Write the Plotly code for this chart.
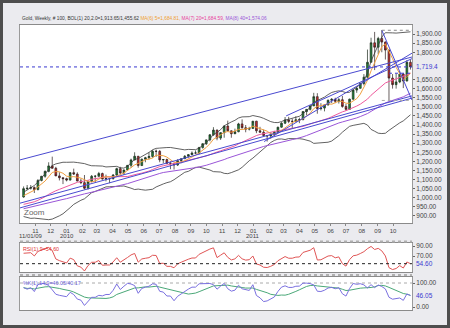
import plotly.graph_objects as go
import pandas as pd
import numpy as np

W, H = 450, 328

# ---------------- data ----------------
# weekly closes before the visible window (used for indicator warm-up)
pre_close = [853, 838, 895, 919, 914, 944, 1002, 942, 940, 930, 955, 925, 898, 880, 870,
             912, 887, 914, 930, 957, 978, 955, 937, 932, 940, 930, 912, 937, 951, 955,
             957, 946, 940, 955, 990, 1006, 1005, 990, 1004]

open_ = [1004, 1050, 1052, 1056, 1045, 1095, 1118, 1145, 1175, 1162, 1120, 1110, 1105,
         1097, 1138, 1130, 1092, 1083, 1052, 1090, 1118, 1118, 1133, 1103, 1105, 1105,
         1125, 1160, 1136, 1153, 1178, 1208, 1228, 1177, 1212, 1220, 1227, 1256, 1255,
         1208, 1210, 1189, 1189, 1180, 1204, 1215, 1228, 1237, 1246, 1246, 1276, 1297,
         1318, 1346, 1372, 1328, 1358, 1394, 1368, 1352, 1363, 1406, 1385, 1377, 1381,
         1421, 1368, 1360, 1342, 1340, 1348, 1360, 1388, 1410, 1428, 1420, 1420, 1429,
         1430, 1474, 1486, 1505, 1556, 1490, 1493, 1510, 1536, 1541, 1530, 1539, 1502,
         1486, 1542, 1592, 1602, 1628, 1663, 1745, 1852, 1828, 1876, 1856, 1812, 1658,
         1622, 1637, 1680, 1642, 1745]
high = [1062, 1070, 1070, 1062, 1102, 1120, 1150, 1195, 1226, 1170, 1140, 1112, 1110,
        1140, 1160, 1140, 1105, 1125, 1095, 1125, 1125, 1142, 1138, 1127, 1110, 1130,
        1165, 1170, 1150, 1180, 1215, 1250, 1230, 1215, 1225, 1250, 1262, 1265, 1262,
        1212, 1215, 1200, 1190, 1212, 1215, 1235, 1240, 1255, 1260, 1280, 1300, 1320,
        1350, 1388, 1375, 1360, 1398, 1424, 1370, 1380, 1412, 1431, 1400, 1390, 1422,
        1423, 1390, 1375, 1345, 1360, 1368, 1390, 1415, 1444, 1445, 1435, 1448, 1440,
        1475, 1487, 1510, 1577, 1575, 1520, 1515, 1540, 1548, 1550, 1548, 1560, 1515,
        1545, 1595, 1610, 1633, 1680, 1815, 1880, 1912, 1885, 1921, 1860, 1815, 1680,
        1683, 1695, 1685, 1757, 1760]
low = [1000, 1042, 1045, 1026, 1040, 1090, 1110, 1140, 1160, 1120, 1095, 1075, 1090,
       1095, 1125, 1090, 1075, 1045, 1045, 1085, 1085, 1115, 1100, 1090, 1080, 1100,
       1120, 1130, 1125, 1150, 1165, 1205, 1165, 1175, 1195, 1210, 1220, 1225, 1195,
       1190, 1185, 1157, 1155, 1175, 1190, 1212, 1220, 1235, 1242, 1240, 1270, 1290,
       1310, 1340, 1316, 1318, 1330, 1365, 1330, 1350, 1360, 1380, 1360, 1370, 1380,
       1355, 1360, 1340, 1309, 1324, 1340, 1355, 1385, 1405, 1410, 1380, 1415, 1410,
       1425, 1455, 1480, 1505, 1462, 1480, 1475, 1508, 1520, 1520, 1518, 1495, 1478,
       1485, 1540, 1577, 1600, 1618, 1660, 1745, 1702, 1790, 1800, 1760, 1535, 1600,
       1600, 1630, 1603, 1640, 1705]
close = [1050, 1052, 1056, 1045, 1095, 1118, 1145, 1175, 1162, 1120, 1110, 1105, 1097,
         1138, 1130, 1092, 1083, 1052, 1090, 1118, 1118, 1133, 1103, 1105, 1105, 1125,
         1160, 1136, 1153, 1178, 1208, 1228, 1177, 1212, 1220, 1227, 1256, 1255, 1208,
         1210, 1189, 1189, 1180, 1204, 1215, 1228, 1237, 1246, 1246, 1276, 1297, 1318,
         1346, 1372, 1328, 1358, 1394, 1368, 1352, 1363, 1406, 1385, 1377, 1381, 1421,
         1368, 1360, 1342, 1340, 1348, 1360, 1388, 1410, 1428, 1420, 1420, 1429, 1430,
         1474, 1486, 1505, 1556, 1490, 1493, 1510, 1536, 1541, 1530, 1539, 1502, 1486,
         1542, 1592, 1602, 1628, 1663, 1745, 1852, 1828, 1876, 1856, 1812, 1658, 1622,
         1637, 1680, 1642, 1745, 1719.4]
dates = pd.date_range("2009-10-09", periods=len(close), freq="W-FRI")

# trend lines: (start date, start price, end date, end price)
trend_lines = [
    ("2009-10-02", 1208, "2011-11-07", 1774),
    ("2009-10-02", 944, "2011-11-07", 1548),
    ("2009-10-02", 970, "2011-11-07", 1560),
    ("2011-01-22", 1309, "2011-11-07", 1795),
    ("2011-03-06", 1450, "2011-11-07", 1765),
    ("2011-09-09", 1921, "2011-11-07", 1537),
]
current_price = 1719.4
ma5_last = 1684.81

month_ticks = pd.date_range("2009-11-01", "2011-10-01", freq="MS")
month_text = [d.strftime("%m") for d in month_ticks]
sub_labels = [("2009-11-01", "11/01/09", -4), ("2010-01-01", "2010", 0), ("2011-01-01", "2011", 0)]
price_ticks = [900, 950, 1000, 1050, 1100, 1150, 1200, 1250, 1300, 1350, 1400, 1450,
               1500, 1550, 1600, 1650, 1800, 1850, 1900]

# ---------------- indicators ----------------
npre = len(pre_close)
allc = pd.Series(pre_close + close, dtype=float)
ma5 = allc.rolling(5).mean().iloc[npre:].values
ma20 = allc.rolling(20).mean().iloc[npre:].values
ma40 = allc.rolling(40, min_periods=39).mean().iloc[npre:].values
sd20 = allc.rolling(20).std(ddof=0).iloc[npre:].values
bbu = ma20 + 2 * sd20
bbl = ma20 - 2 * sd20

d = allc.diff()
au = d.clip(lower=0).ewm(alpha=1 / 9, adjust=False).mean()
ad = (-d).clip(lower=0).ewm(alpha=1 / 9, adjust=False).mean()
rsi = (100 - 100 / (1 + au / ad)).iloc[npre:].values

hs = pd.Series(high, dtype=float)
ls = pd.Series(low, dtype=float)
cs = pd.Series(close, dtype=float)
hh = hs.rolling(14, min_periods=1).max()
ll = ls.rolling(14, min_periods=1).min()
stk = (100 * (cs - ll) / (hh - ll)).values
std_ = pd.Series(stk).rolling(9, min_periods=1).mean().values

# ---------------- layout helpers ----------------
def px(x):
    return x / W

def py(y):
    return 1 - y / H

XL, XR = 20, 412
x_range = ["2009-10-02", "2011-11-07"]
main_dom = [py(223), py(25)]
rsi_dom = [py(272), py(243)]
sto_dom = [py(310), py(277)]

fig = go.Figure()

fig.add_trace(go.Candlestick(
    x=dates, open=open_, high=high, low=low, close=close,
    increasing=dict(line=dict(color="#1d2a1d", width=0.7), fillcolor="#1f8a3a"),
    decreasing=dict(line=dict(color="#2a1d1d", width=0.7), fillcolor="#d42a2a"),
    whiskerwidth=0, showlegend=False, xaxis="x", yaxis="y"))

for ys, col, w in [(bbu, "#3a3a3a", 0.8), (bbl, "#3a3a3a", 0.8),
                   (ma40, "#9a55d8", 1.0), (ma20, "#ee5a9c", 1.0), (ma5, "#f0a040", 1.0)]:
    fig.add_trace(go.Scatter(x=dates, y=ys, mode="lines", line=dict(color=col, width=w),
                             showlegend=False, hoverinfo="skip", xaxis="x", yaxis="y"))

for (d0, v0, d1, v1) in trend_lines:
    fig.add_trace(go.Scatter(x=[d0, d1], y=[v0, v1], mode="lines",
                             line=dict(color="#4a4ad0", width=1), showlegend=False,
                             hoverinfo="skip", xaxis="x", yaxis="y"))

fig.add_trace(go.Scatter(x=x_range, y=[current_price, current_price], mode="lines",
                         line=dict(color="#3a3ad0", width=1, dash="3px,3px"),
                         showlegend=False, hoverinfo="skip", xaxis="x", yaxis="y"))
fig.add_trace(go.Scatter(x=[dates[-7], x_range[1]], y=[ma5_last, ma5_last], mode="lines",
                         line=dict(color="#3a3ad0", width=1, dash="3px,3px"),
                         showlegend=False, hoverinfo="skip", xaxis="x", yaxis="y"))
fig.add_trace(go.Scatter(x=[dates[-9], x_range[1]], y=[max(high), max(high)], mode="lines",
                         line=dict(color="#888888", width=1, dash="dot"),
                         showlegend=False, hoverinfo="skip", xaxis="x", yaxis="y"))
fig.add_trace(go.Scatter(x=[dates[-9], dates[-1]], y=[min(low[-10:]), min(low[-10:])],
                         mode="lines", line=dict(color="#aaaaaa", width=1, dash="dot"),
                         showlegend=False, hoverinfo="skip", xaxis="x", yaxis="y"))

# RSI
fig.add_trace(go.Scatter(x=dates, y=rsi, mode="lines", line=dict(color="#e05555", width=1),
                         showlegend=False, hoverinfo="skip", xaxis="x2", yaxis="y2"))
fig.add_trace(go.Scatter(x=x_range, y=[rsi[-1], rsi[-1]], mode="lines",
                         line=dict(color="#222222", width=1, dash="3px,3px"),
                         showlegend=False, hoverinfo="skip", xaxis="x2", yaxis="y2"))
# Stochastic
fig.add_trace(go.Scatter(x=x_range, y=[100, 100], mode="lines",
                         line=dict(color="#aaaaaa", width=1, dash="3px,3px"),
                         showlegend=False, hoverinfo="skip", xaxis="x3", yaxis="y3"))
fig.add_trace(go.Scatter(x=dates, y=std_, mode="lines", line=dict(color="#4aa878", width=1),
                         showlegend=False, hoverinfo="skip", xaxis="x3", yaxis="y3"))
fig.add_trace(go.Scatter(x=dates, y=stk, mode="lines", line=dict(color="#7a70e0", width=1),
                         showlegend=False, hoverinfo="skip", xaxis="x3", yaxis="y3"))

FONT = "Liberation Sans, Arial, sans-serif"
tick_font = dict(family=FONT, size=6.5, color="#444444")

def fmt(v):
    return f"{v:,.2f}"

axis_common = dict(showgrid=False, zeroline=False, showline=True, mirror=True,
                   linecolor="#9a9a9a", linewidth=1)

fig.update_layout(
    width=W, height=H, margin=dict(l=0, r=0, t=0, b=0),
    paper_bgcolor="#ebebef", plot_bgcolor="#ffffff",
    font=dict(family=FONT),
    xaxis=dict(domain=[px(XL), px(XR)], range=x_range, anchor="y",
               tickvals=month_ticks, ticktext=month_text, tickangle=0,
               tickfont=dict(family=FONT, size=6, color="#444444"),
               ticks="outside", ticklen=2, tickcolor="#888888",
               rangeslider=dict(visible=False), **axis_common),
    yaxis=dict(domain=main_dom, range=[861, 1950], side="right", anchor="x",
               tickvals=price_ticks, ticktext=[fmt(v) for v in price_ticks],
               tickfont=tick_font, ticks="outside", ticklen=2, tickcolor="#666666",
               **axis_common),
    xaxis2=dict(domain=[px(XL), px(XR)], range=x_range, anchor="y2", showticklabels=False,
                **axis_common),
    yaxis2=dict(domain=rsi_dom, range=[38, 96], side="right", anchor="x2",
                tickvals=[90, 70], ticktext=["90.00", "70.00"], tickfont=tick_font,
                ticks="outside", ticklen=2, tickcolor="#666666", **axis_common),
    xaxis3=dict(domain=[px(XL), px(XR)], range=x_range, anchor="y3", showticklabels=False,
                **axis_common),
    yaxis3=dict(domain=sto_dom, range=[-12.5, 125], side="right", anchor="x3",
                tickvals=[100, 0], ticktext=["100.00", "0.00"], tickfont=tick_font,
                ticks="outside", ticklen=2, tickcolor="#666666", **axis_common),
)
fig.update_xaxes(linecolor="#8a8a8a")

FRAME = "#4e4e4e"
shapes = [
    dict(type="rect", xref="paper", yref="paper", x0=0, x1=1, y0=py(3), y1=1,
         fillcolor=FRAME, line=dict(width=0), layer="above"),
    dict(type="rect", xref="paper", yref="paper", x0=0, x1=1, y0=0, y1=py(325),
         fillcolor=FRAME, line=dict(width=0), layer="above"),
    dict(type="rect", xref="paper", yref="paper", x0=0, x1=px(3), y0=0, y1=1,
         fillcolor=FRAME, line=dict(width=0), layer="above"),
    dict(type="rect", xref="paper", yref="paper", x0=px(447), x1=1, y0=0, y1=1,
         fillcolor=FRAME, line=dict(width=0), layer="above"),
    dict(type="line", xref="paper", yref="paper", x0=px(XL), x1=px(XR), y0=py(241.5), y1=py(241.5),
         line=dict(color="#b0b0b0", width=2, dash="dot"), layer="above"),
    dict(type="line", xref="paper", yref="paper", x0=px(XL), x1=px(XR), y0=py(275), y1=py(275),
         line=dict(color="#b0b0b0", width=2, dash="dot"), layer="above"),
]
fig.update_layout(shapes=shapes)

title_html = ("<span style='color:#333333'>Gold, Weekly, # 100, BOL(1) 20,2.0=1,913.65/1,455.62</span> "
              "<span style='color:#f0a030'>MA(6) 5=1,684.81,</span> "
              "<span style='color:#e8409a'>MA(7) 20=1,684.59,</span> "
              "<span style='color:#9a55d8'>MA(8) 40=1,574.06</span>")
ann = [
    dict(text=title_html, xref="paper", yref="paper", x=px(XL), y=py(23.5), xanchor="left",
         yanchor="bottom", showarrow=False, font=dict(family=FONT, size=4.8, color="#333333")),
    dict(text="Zoom", xref="paper", yref="paper", x=px(22), y=py(212), xanchor="left",
         yanchor="middle", showarrow=False, font=dict(family=FONT, size=8, color="#666666")),
    dict(text=fmt(current_price)[:-1], xref="paper", yref="y", x=px(414), y=current_price,
         xanchor="left", yanchor="middle", showarrow=False,
         font=dict(family=FONT, size=6.5, color="#3a3ad0")),
    dict(text="RSI(1) 9=54.60", xref="paper", yref="paper", x=px(21), y=py(243.5), xanchor="left",
         yanchor="top", showarrow=False, font=dict(family=FONT, size=5.3, color="#e03030")),
    dict(text="54.60", xref="paper", yref="y2", x=px(414), y=rsi[-1], xanchor="left",
         yanchor="middle", showarrow=False, font=dict(family=FONT, size=6.5, color="#3a3ad0")),
    dict(text="%K(1) 14,9=46.05/40.17", xref="paper", yref="paper", x=px(21), y=py(277.5),
         xanchor="left", yanchor="top", showarrow=False,
         font=dict(family=FONT, size=5.3, color="#6a60d8")),
    dict(text="46.05", xref="paper", yref="y3", x=px(414), y=46.05, xanchor="left",
         yanchor="middle", showarrow=False, font=dict(family=FONT, size=6.5, color="#3a3ad0")),
]
for dstr, txt, dx in sub_labels:
    ann.append(dict(text=txt, xref="x", yref="paper", x=dstr, y=py(235.5), xanchor="center",
                    yanchor="middle", xshift=dx, showarrow=False,
                    font=dict(family=FONT, size=6, color="#444444")))
fig.update_layout(annotations=ann)

fig.write_html("out.html")
